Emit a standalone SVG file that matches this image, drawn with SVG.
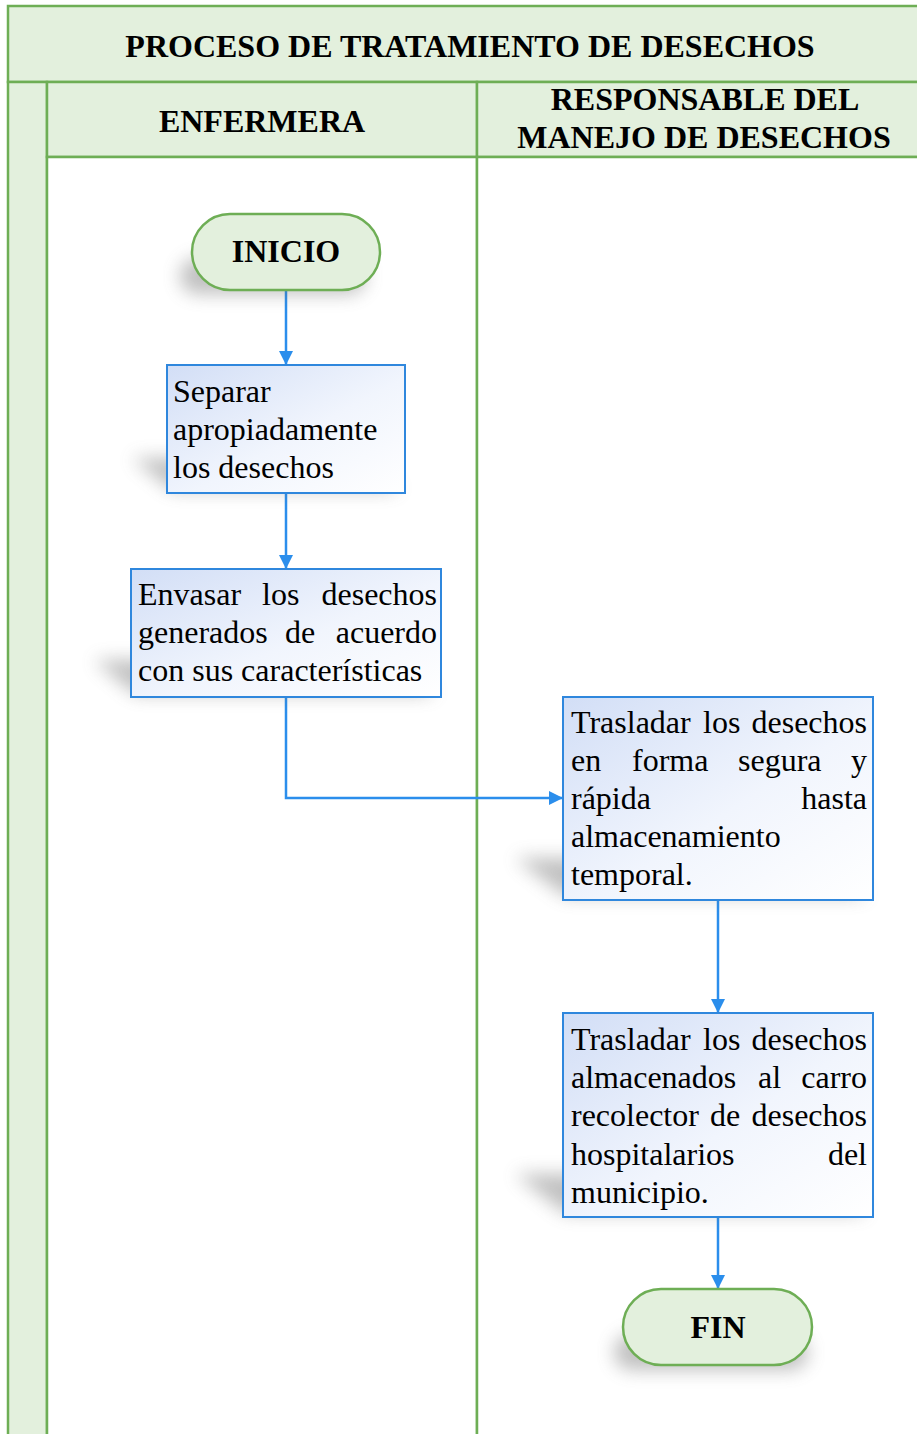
<svg xmlns="http://www.w3.org/2000/svg" width="917" height="1434" viewBox="0 0 917 1434">
  <defs>
    <linearGradient id="boxFill" x1="0" y1="0" x2="1" y2="1">
      <stop offset="0" stop-color="#d2def6"/>
      <stop offset="0.55" stop-color="#f1f5fd"/>
      <stop offset="1" stop-color="#ffffff"/>
    </linearGradient>
    <filter id="soft" x="-30%" y="-80%" width="160%" height="260%">
      <feGaussianBlur stdDeviation="9"/>
    </filter>
    <marker id="arrow" viewBox="0 0 14 14" refX="14" refY="7" markerWidth="14" markerHeight="14" markerUnits="userSpaceOnUse" orient="auto">
      <path d="M0,0 L14,7 L0,14 Z" fill="#2b8eec"/>
    </marker>
  </defs>
  <style>
    .lane { fill: #e3f0dd; stroke: #6eae55; stroke-width: 2.5; }
    .laneBody { fill: #ffffff; stroke: #6eae55; stroke-width: 2.5; }
    .head { font-family: "Liberation Serif", "Times New Roman", serif; font-weight: bold; font-size: 32px; fill: #000; text-anchor: middle; }
    .term { fill: #e3f0dd; stroke: #6eae55; stroke-width: 2.5; }
    .proc { fill: url(#boxFill); stroke: #2f87dd; stroke-width: 2; }
    .shadow { fill: #6a6a6a; opacity: 0.42; filter: url(#soft); }
    .body { font-family: "Liberation Serif", "Times New Roman", serif; font-size: 32px; fill: #000; }
    .end { text-anchor: end; }
    .conn { fill: none; stroke: #2b8eec; stroke-width: 2.5; marker-end: url(#arrow); }
  </style>

  <!-- pool frame -->
  <g id="pool">
    <rect class="lane" x="8" y="6" width="912" height="76"/>
    <rect class="lane" x="8" y="82" width="39" height="1360"/>
    <rect class="lane" x="47" y="82" width="430" height="75"/>
    <rect class="lane" x="477" y="82" width="443" height="75"/>
    <rect class="laneBody" x="47" y="157" width="430" height="1285"/>
    <rect class="laneBody" x="477" y="157" width="443" height="1285"/>
    <text class="head" x="470" y="57">PROCESO DE TRATAMIENTO DE DESECHOS</text>
    <text class="head" x="262" y="132">ENFERMERA</text>
    <text class="head" x="705" y="110">RESPONSABLE DEL</text>
    <text class="head" x="704" y="148">MANEJO DE DESECHOS</text>
  </g>

  <!-- connectors -->
  <g id="connectors">
    <path class="conn" d="M286,290 L286,365"/>
    <path class="conn" d="M286,493 L286,569"/>
    <path class="conn" d="M286,697 L286,798 L563,798"/>
    <path class="conn" d="M718,900 L718,1013"/>
    <path class="conn" d="M718,1217 L718,1289"/>
  </g>

  <!-- start -->
  <g id="inicio">
    <rect class="shadow" x="180" y="258" width="186" height="36" rx="18"/>
    <rect class="term" x="192" y="214" width="188" height="76" rx="38"/>
    <text class="head" x="286" y="262">INICIO</text>
  </g>

  <!-- step 1 -->
  <g id="separar">
    <polygon class="shadow" points="132,458 360,458 400,490 172,490"/>
    <rect class="proc" x="167" y="365" width="238" height="128"/>
    <text class="body" x="173" y="402">Separar</text>
    <text class="body" x="173" y="440">apropiadamente</text>
    <text class="body" x="173" y="478">los desechos</text>
  </g>

  <!-- step 2 -->
  <g id="envasar">
    <polygon class="shadow" points="94,660 395,660 436,694 135,694"/>
    <rect class="proc" x="131" y="569" width="310" height="128"/>
    <text class="body" y="605"><tspan x="138">Envasar</tspan><tspan x="262">los</tspan><tspan class="end" x="437">desechos</tspan></text>
    <text class="body" y="643"><tspan x="138">generados</tspan><tspan x="285">de</tspan><tspan class="end" x="437">acuerdo</tspan></text>
    <text class="body" x="138" y="681">con sus características</text>
  </g>

  <!-- step 3 -->
  <g id="trasladar-temporal">
    <polygon class="shadow" points="515,858 818,858 868,896 565,896"/>
    <rect class="proc" x="563" y="697" width="310" height="203"/>
    <text class="body" y="733"><tspan x="571">Trasladar</tspan><tspan x="703">los</tspan><tspan class="end" x="867">desechos</tspan></text>
    <text class="body" y="771"><tspan x="571">en</tspan><tspan x="632">forma</tspan><tspan x="738">segura</tspan><tspan class="end" x="867">y</tspan></text>
    <text class="body" y="809"><tspan x="571">rápida</tspan><tspan class="end" x="867">hasta</tspan></text>
    <text class="body" x="571" y="847">almacenamiento</text>
    <text class="body" x="571" y="885">temporal.</text>
  </g>

  <!-- step 4 -->
  <g id="trasladar-carro">
    <polygon class="shadow" points="515,1174 818,1174 868,1213 565,1213"/>
    <rect class="proc" x="563" y="1013" width="310" height="204"/>
    <text class="body" y="1050"><tspan x="571">Trasladar</tspan><tspan x="703">los</tspan><tspan class="end" x="867">desechos</tspan></text>
    <text class="body" y="1088"><tspan x="571">almacenados</tspan><tspan x="758">al</tspan><tspan class="end" x="867">carro</tspan></text>
    <text class="body" y="1126"><tspan x="571">recolector</tspan><tspan x="710">de</tspan><tspan class="end" x="867">desechos</tspan></text>
    <text class="body" y="1165"><tspan x="571">hospitalarios</tspan><tspan class="end" x="867">del</tspan></text>
    <text class="body" x="571" y="1203">municipio.</text>
  </g>

  <!-- end -->
  <g id="fin">
    <rect class="shadow" x="614" y="1334" width="194" height="36" rx="18"/>
    <rect class="term" x="623" y="1289" width="189" height="76" rx="38"/>
    <text class="head" x="718" y="1338">FIN</text>
  </g>
</svg>
